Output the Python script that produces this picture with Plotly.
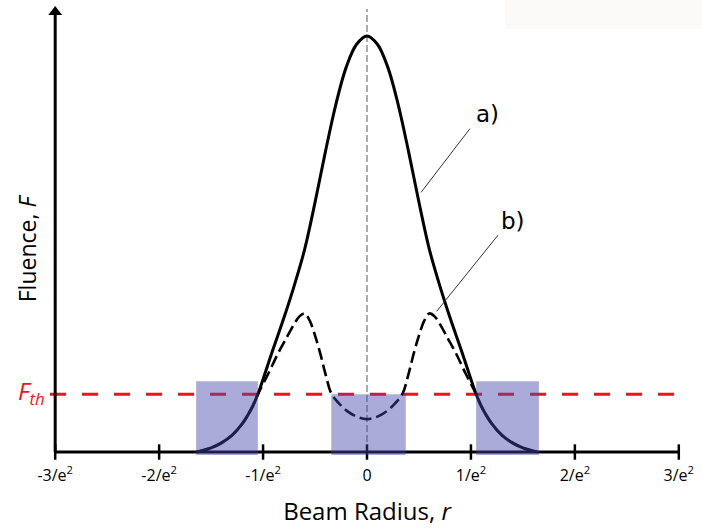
import plotly.graph_objects as go

# ---- data ----
tick_vals = [-3, -2, -1, 0, 1, 2, 3]
tick_text = ["-3/e<sup>2</sup>", "-2/e<sup>2</sup>", "-1/e<sup>2</sup>", "0",
             "1/e<sup>2</sup>", "2/e<sup>2</sup>", "3/e<sup>2</sup>"]

# curve a) : full fluence profile (values read off the picture)
a_r = [-1.64, -1.50, -1.40, -1.30, -1.20, -1.10, -1.05, -1.00, -0.90, -0.80, -0.70, -0.60,
       -0.50, -0.40, -0.30, -0.20, -0.10, 0.0, 0.10, 0.20, 0.30, 0.40, 0.50, 0.60, 0.70,
       0.80, 0.90, 1.00, 1.05, 1.10, 1.20, 1.30, 1.40, 1.50, 1.64]
a_F = [0.0, 0.010, 0.022, 0.040, 0.068, 0.110, 0.139, 0.175, 0.250, 0.322, 0.400, 0.487,
       0.600, 0.722, 0.835, 0.925, 0.980, 1.0, 0.980, 0.925, 0.835, 0.722, 0.600, 0.487, 0.400,
       0.322, 0.250, 0.175, 0.139, 0.110, 0.068, 0.040, 0.022, 0.010, 0.0]

# curve b) : dashed profile with central dip
b_r = [-1.64, -1.50, -1.40, -1.30, -1.20, -1.10, -1.05, -0.95, -0.86, -0.78, -0.70, -0.65,
       -0.60, -0.55, -0.50, -0.45, -0.40, -0.34, -0.27, -0.20, -0.10, 0.0, 0.10, 0.20, 0.27,
       0.34, 0.40, 0.45, 0.50, 0.55, 0.60, 0.65, 0.70, 0.78, 0.86, 0.95, 1.05, 1.10, 1.20,
       1.30, 1.40, 1.50, 1.64]
b_F = [0.0, 0.010, 0.022, 0.040, 0.068, 0.110, 0.139, 0.188, 0.235, 0.272, 0.308, 0.326,
       0.333, 0.315, 0.280, 0.237, 0.188, 0.139, 0.117, 0.100, 0.085, 0.079, 0.085, 0.100, 0.117,
       0.139, 0.188, 0.237, 0.280, 0.315, 0.333, 0.326, 0.308, 0.272, 0.235, 0.188, 0.139, 0.110,
       0.068, 0.040, 0.022, 0.010, 0.0]

F_th = 0.139

# shaded regions
box_x0 = [-1.644, -0.344, 1.05]
box_x1 = [-1.05, 0.373, 1.654]
box_top = [0.170, 0.139, 0.170]
box_bottom = -0.007

# leader lines / labels
lead_a = ([0.52, 0.99], [0.624, 0.777])
lead_b = ([0.67, 1.26], [0.338, 0.521])
lab_a = (1.16, 0.812)
lab_b = (1.40, 0.556)

x_range = [-3.05, 3.05]
y_range = [-0.012, 1.0671]
axis_top = 1.0504
arrow_y = 1.0576
centre_top = 1.0647

fig = go.Figure()

# vertical grey dashed centre line
fig.add_trace(go.Scatter(x=[0, 0], y=[0, centre_top], mode="lines",
                         line=dict(color="#5a5a5a", width=1, dash="7px,3px"),
                         hoverinfo="skip", showlegend=False))

# threshold line
fig.add_trace(go.Scatter(x=[x_range[0], 3.0], y=[F_th, F_th], mode="lines",
                         line=dict(color="#f01414", width=3, dash="16px,16px"),
                         hoverinfo="skip", showlegend=False))

# axes (drawn as lines)
fig.add_trace(go.Scatter(x=[-3, 3], y=[0, 0], mode="lines",
                         line=dict(color="black", width=3),
                         hoverinfo="skip", showlegend=False))
fig.add_trace(go.Scatter(x=[-3, -3], y=[0, axis_top], mode="lines",
                         line=dict(color="black", width=3),
                         hoverinfo="skip", showlegend=False))
fig.add_trace(go.Scatter(x=tick_vals, y=[0] * len(tick_vals), mode="markers",
                         marker=dict(symbol="line-ns", size=11,
                                     line=dict(color="black", width=2.5)),
                         cliponaxis=False, hoverinfo="skip", showlegend=False))
fig.add_trace(go.Scatter(x=[-3], y=[arrow_y], mode="markers",
                         marker=dict(symbol="triangle-up", size=12, color="black"),
                         cliponaxis=False, hoverinfo="skip", showlegend=False))

# curves
fig.add_trace(go.Scatter(x=a_r, y=a_F, mode="lines", name="a)",
                         line=dict(color="black", width=3, shape="spline", smoothing=1),
                         showlegend=False))
fig.add_trace(go.Scatter(x=b_r, y=b_F, mode="lines", name="b)",
                         line=dict(color="black", width=2.6, dash="12px,5px",
                                   shape="spline", smoothing=1),
                         showlegend=False))

# leader lines
for lx, ly in (lead_a, lead_b):
    fig.add_trace(go.Scatter(x=lx, y=ly, mode="lines",
                             line=dict(color="#333333", width=1),
                             hoverinfo="skip", showlegend=False))

shapes = []
for x0, x1, top in zip(box_x0, box_x1, box_top):
    shapes.append(dict(type="rect", xref="x", yref="y", x0=x0, x1=x1,
                       y0=box_bottom, y1=top, layer="above",
                       fillcolor="rgba(68,68,173,0.45)", line=dict(width=0)))
shapes.append(dict(type="rect", xref="paper", yref="paper", x0=0.718, x1=1.03,
                   y0=0.953, y1=1.02, layer="below",
                   fillcolor="#fcf9f9", line=dict(width=0)))

annotations = [
    dict(x=lab_a[0], y=lab_a[1], text="a)", showarrow=False,
         font=dict(family="DejaVu Sans", size=23, color="black")),
    dict(x=lab_b[0], y=lab_b[1], text="b)", showarrow=False,
         font=dict(family="DejaVu Sans", size=23, color="black")),
    dict(x=x_range[0], y=F_th, text="<i>F<sub>th</sub></i>", showarrow=False,
         xanchor="right", yanchor="middle", xshift=-3, yshift=2,
         font=dict(family="Open Sans", size=24, color="#f01414")),
    dict(xref="paper", x=-0.036, y=0.49, text="Fluence, <i>F</i>", showarrow=False,
         textangle=-90, xanchor="center", yanchor="middle",
         font=dict(family="Open Sans", size=23, color="black")),
]

fig.update_layout(
    width=702, height=529,
    margin=dict(l=50, r=14, t=8, b=71),
    paper_bgcolor="white", plot_bgcolor="white",
    shapes=shapes, annotations=annotations,
    xaxis=dict(range=x_range, showgrid=False, zeroline=False, showline=False,
               tickmode="array", tickvals=tick_vals, ticktext=tick_text,
               ticks="", ticklabelstandoff=7,
               tickfont=dict(family="Open Sans", size=16, color="black"),
               title=dict(text="Beam Radius, <i>r</i>", standoff=18,
                          font=dict(family="Open Sans", size=24, color="black"))),
    yaxis=dict(range=y_range, showgrid=False, zeroline=False, showline=False,
               showticklabels=False, ticks=""),
)

# remove the default page margin so the 702x529 figure fills the window exactly
page_fix = ("document.documentElement.style.overflow='hidden';"
            "document.body.style.margin='0';document.body.style.overflow='hidden';")
fig.write_html("out.html", post_script=page_fix, config={"displayModeBar": False})
